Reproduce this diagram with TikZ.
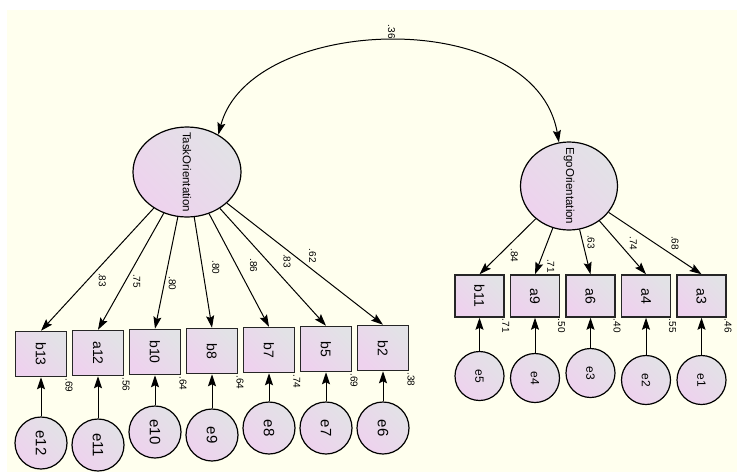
\documentclass[tikz,border=0pt]{standalone}
\usepackage{fontspec}
\setmainfont{Liberation Sans}
\usetikzlibrary{arrows.meta, positioning, shapes.geometric}

\definecolor{bgcream}{RGB}{255,255,238}
\definecolor{amospink}{RGB}{238,210,238}
\definecolor{amosgray}{RGB}{226,226,230}
\newcommand{\vtext}[1]{\rotatebox{-90}{#1}}
\newcommand{\vname}[1]{\rotatebox{-90}{\makebox[0pt]{#1}}}

\begin{document}
\begin{tikzpicture}[x=1pt, y=-1pt, node distance=57pt, on grid, auto,
  >={Stealth[length=12pt, width=8pt, inset=2pt]},
  amos/.style={top color=amosgray, bottom color=amospink, shading angle=-45},
  obs/.style={rectangle, amos, draw=black!85, line width=1.5pt, minimum width=51pt, minimum height=45pt, font=\fontsize{14}{14}\selectfont},
  err/.style={circle, amos, draw, line width=1.2pt, minimum size=52pt, inner sep=0pt, font=\fontsize{15}{15}\selectfont},
  lat/.style={ellipse, amos, draw, line width=1.2pt, inner sep=0pt, font=\fontsize{11.5}{11.5}\selectfont},
  coef/.style={font=\fontsize{10}{10}\selectfont, inner sep=2pt},
  r2/.style={font=\fontsize{10}{10}\selectfont, inner sep=1pt}]
  \path[use as bounding box, fill=white] (0,0) rectangle (737,472);
  \fill[bgcream] (7,10) rectangle (737,472);

  % latent variables
  \node[lat, minimum width=108pt, minimum height=90pt] (task) at (187,172) {\vname{TaskOrientation}};
  \node[lat, minimum width=97pt, minimum height=88pt] (ego) at (569,186) {\vname{EgoOrientation}};

  % task items
  \node[obs, label={[r2]below right:\vtext{.69}}] (b13) at (41,354) {\vtext{b13}};
  \node[obs, label={[r2]below right:\vtext{.56}}] (a12) [above right=1pt and 57pt of b13] {\vtext{a12}};
  \node[obs, label={[r2]below right:\vtext{.64}}] (b10) [above right=1pt and 57pt of a12] {\vtext{b10}};
  \node[obs, label={[r2]below right:\vtext{.64}}] (b8) [above right=1pt and 57pt of b10] {\vtext{b8}};
  \node[obs, label={[r2]below right:\vtext{.74}}] (b7) [above right=1pt and 57pt of b8] {\vtext{b7}};
  \node[obs, label={[r2]below right:\vtext{.69}}] (b5) [above right=1pt and 57pt of b7] {\vtext{b5}};
  \node[obs, label={[r2]below right:\vtext{.38}}] (b2) [above right=1pt and 57pt of b5] {\vtext{b2}};

  % ego items
  \node[obs, minimum width=49pt, minimum height=42pt, label={[r2]below right:\vtext{.71}}] (b11) at (479.5,296) {\vtext{b11}};
  \node[obs, minimum width=49pt, minimum height=42pt, label={[r2]below right:\vtext{.50}}] (a9) [right=55.5pt of b11] {\vtext{a9}};
  \node[obs, minimum width=49pt, minimum height=42pt, label={[r2]below right:\vtext{.40}}] (a6) [right=55.5pt of a9] {\vtext{a6}};
  \node[obs, minimum width=49pt, minimum height=42pt, label={[r2]below right:\vtext{.55}}] (a4) [right=55.5pt of a6] {\vtext{a4}};
  \node[obs, minimum width=49pt, minimum height=42pt, label={[r2]below right:\vtext{.46}}] (a3) [right=55.5pt of a4] {\vtext{a3}};

  % errors
  \node[err] (e12) [below=89pt of b13] {\vtext{e12}};
  \node[err] (e11) [below=92pt of a12] {\vtext{e11}};
  \node[err] (e10) [below=80pt of b10] {\vtext{e10}};
  \node[err] (e9) [below=84pt of b8] {\vtext{e9}};
  \node[err] (e8) [below=78pt of b7] {\vtext{e8}};
  \node[err] (e7) [below=79pt of b5] {\vtext{e7}};
  \node[err] (e6) [below=80pt of b2] {\vtext{e6}};
  \node[err, minimum size=49pt, font=\fontsize{12}{12}\selectfont] (e5) [below=80pt of b11] {\vtext{e5}};
  \node[err, minimum size=49pt, font=\fontsize{12}{12}\selectfont] (e4) [below=82pt of a9] {\vtext{e4}};
  \node[err, minimum size=49pt, font=\fontsize{12}{12}\selectfont] (e3) [below=77pt of a6] {\vtext{e3}};
  \node[err, minimum size=49pt, font=\fontsize{12}{12}\selectfont] (e2) [below=84pt of a4] {\vtext{e2}};
  \node[err, minimum size=49pt, font=\fontsize{12}{12}\selectfont] (e1) [below=84pt of a3] {\vtext{e1}};

  \draw[<->, line width=1pt] (task.50) .. controls (250,14) and (535,4) .. (ego.103)
    node[coef, midway, above] {\vtext{.36}};
  \path[->, line width=1pt]
    (task) edge node[coef, pos=0.51] {\vtext{.83}} (b13.north)
           edge node[coef, pos=0.50] {\vtext{.75}} (a12.north)
           edge node[coef, pos=0.51] {\vtext{.80}} (b10.north)
           edge node[coef, pos=0.54, xshift=6pt] {\vtext{.80}} (b8.north)
           edge node[coef, pos=0.54, xshift=6pt] {\vtext{.86}} (b7.north)
           edge node[coef, pos=0.53, xshift=5pt] {\vtext{.83}} (b5.north)
           edge node[coef, pos=0.51] {\vtext{.62}} (b2.north)
    (ego) edge node[coef, pos=0.49] {\vtext{.84}} (b11.north)
          edge node[coef, pos=0.62, xshift=3pt] {\vtext{.71}} (a9.north)
          edge node[coef, pos=0.49] {\vtext{.63}} (a6.north)
          edge node[coef, pos=0.60] {\vtext{.74}} (a4.north)
          edge node[coef, pos=0.65] {\vtext{.68}} (a3.north)
    (e12) edge (b13) (e11) edge (a12) (e10) edge (b10) (e9) edge (b8)
    (e8) edge (b7) (e7) edge (b5) (e6) edge (b2)
    (e5) edge (b11) (e4) edge (a9) (e3) edge (a6) (e2) edge (a4) (e1) edge (a3);
\end{tikzpicture}
\end{document}
